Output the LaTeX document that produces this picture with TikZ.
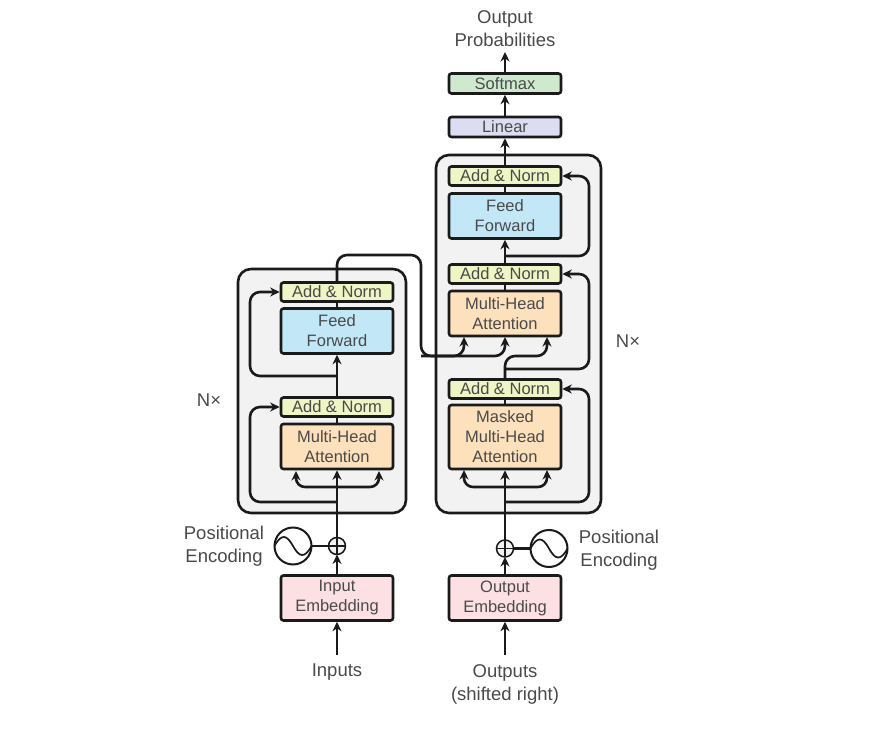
\documentclass[tikz,border=0pt]{standalone}
\usepackage{fontspec}
\setmainfont{Liberation Sans}
\usetikzlibrary{arrows.meta}
\definecolor{txt}{HTML}{4A4A4A}
\definecolor{line}{HTML}{1A1A1A}
\definecolor{stackbg}{HTML}{F2F2F2}
\definecolor{normc}{HTML}{EFF5C4}
\definecolor{ffc}{HTML}{C2E7F7}
\definecolor{attc}{HTML}{FDE0BC}
\definecolor{embc}{HTML}{FCE0E3}
\definecolor{softc}{HTML}{CFE9CF}
\definecolor{linc}{HTML}{DCDDF0}
\tikzset{
  stack/.style={draw=line,line width=2.6pt,fill=stackbg,rounded corners=13pt},
  blockbox/.style={draw=line,line width=2.6pt,rounded corners=2.5pt,minimum width=112pt,inner sep=0pt,outer sep=1.3pt,align=center,text=txt,font=\fontsize{16.5}{20}\selectfont},
  normbox/.style={blockbox,fill=normc,minimum height=19pt},
  ffbox/.style={blockbox,fill=ffc,minimum height=45pt},
  attbox/.style={blockbox,fill=attc,minimum height=45pt},
  embbox/.style={blockbox,fill=embc,minimum height=45pt},
  label/.style={text=txt,align=center,inner sep=0pt,font=\fontsize{18.5}{23}\selectfont},
  arr/.style={draw=line,line width=2.6pt,-{Stealth[length=9.5pt,width=9pt]}},
  dbl/.style={draw=line,line width=2.6pt,{Stealth[length=9.5pt,width=9pt]}-{Stealth[length=9.5pt,width=9pt]},rounded corners=9pt},
  plain/.style={draw=line,line width=2.6pt},
  resid/.style={arr,rounded corners=10pt},
  sumnode/.style={circle,draw=line,line width=1.5pt,fill=stackbg,minimum size=17pt,inner sep=0pt,outer sep=0pt,
    path picture={\draw[line,line width=1.1pt] (path picture bounding box.north)--(path picture bounding box.south)
      (path picture bounding box.west)--(path picture bounding box.east);}},
  wavenode/.style={circle,draw=line,line width=2pt,fill=white,minimum size=37pt,inner sep=0pt,outer sep=0pt,
    path picture={\draw[line,line width=1.7pt] (path picture bounding box.west) .. controls +(7,-13) and +(-6,-11) .. (path picture bounding box.center) .. controls +(6,11) and +(-7,13) .. (path picture bounding box.east);}},
}
\begin{document}
\begin{tikzpicture}[x=1pt,y=-1pt]
\useasboundingbox (0,0) rectangle (871,754);
\fill[white] (0,0) rectangle (871,754);
% stacks
\node[stack,minimum width=168pt,minimum height=244pt,inner sep=0pt] (encstack) at (322,391) {};
\node[stack,minimum width=165pt,minimum height=358pt,inner sep=0pt] (decstack) at (518.5,334) {};
% encoder blocks
\node[normbox] (en2) at (337,292) {Add \& Norm};
\node[ffbox] (eff) at (337,331) {Feed\\Forward};
\node[normbox] (en1) at (337,407) {Add \& Norm};
\node[attbox] (eatt) at (337,446.5) {Multi-Head\\Attention};
\node[embbox] (iemb) at (337,598) {Input\\Embedding};
% decoder blocks
\node[blockbox,fill=softc,minimum height=20pt] (soft) at (505,83.5) {Softmax};
\node[blockbox,fill=linc,minimum height=20pt] (lin) at (505,127) {Linear};
\node[normbox] (dn3) at (505,176) {Add \& Norm};
\node[ffbox] (dff) at (505,216) {Feed\\Forward};
\node[normbox] (dn2) at (505,274) {Add \& Norm};
\node[attbox] (datt) at (505,313.5) {Multi-Head\\Attention};
\node[normbox] (dn1) at (505,389) {Add \& Norm};
\node[blockbox,fill=attc,minimum height=64pt] (dmask) at (505,437) {Masked\\Multi-Head\\Attention};
\node[embbox] (oemb) at (505,598) {Output\\Embedding};
% positional
\node[sumnode] (eplus) at (337,546) {};
\node[wavenode] (ewave) at (293,546) {};
\node[sumnode] (dplus) at (505,548.5) {};
\node[wavenode] (dwave) at (549,548.5) {};
% labels
\node[label] (inp) at (337,672) {Inputs};
\node[label] (outp) at (505,684) {Outputs\\(shifted right)};
\node[label] (prob) at (505,29) {Output\\Probabilities};
\node[label] (nl) at (209,400) {N×};
\node[label] (nr) at (628,341) {N×};
\node[label] (pl) at (224,546) {Positional\\Encoding};
\node[label] (pr) at (619,550) {Positional\\Encoding};
% named free ends
\coordinate (inStart) at (337,655);
\coordinate (outStart) at (505,655);
\coordinate (probEnd) at (505,52);
\coordinate (ej1) at (337,502);
\coordinate (ej2) at (337,376);
\coordinate (eaL) at (296,471);
\coordinate (eaR) at (379,471);
\coordinate (ebL) at (296,487);
\coordinate (ebR) at (379,487);
\coordinate (ec1) at (250,502);
\coordinate (ec2) at (250,407);
\coordinate (ec3) at (250,376);
\coordinate (ec4) at (250,292);
\coordinate (dj1) at (505,502);
\coordinate (dj2) at (505,369);
\coordinate (dj3) at (505,256);
\coordinate (dc1) at (589,502);
\coordinate (dc2) at (589,389);
\coordinate (dc3) at (589,369);
\coordinate (dc4) at (589,274);
\coordinate (dc5) at (589,256);
\coordinate (dc6) at (589,176);
\coordinate (maL) at (464,470);
\coordinate (maR) at (547,470);
\coordinate (mbL) at (464,487);
\coordinate (mbR) at (547,487);
\coordinate (daL) at (464,337);
\coordinate (daM) at (505,337);
\coordinate (daR) at (547,337);
\coordinate (dbL) at (464,356);
\coordinate (dbM) at (505,356);
\coordinate (dbR) at (547,356);
\coordinate (x1) at (337,255);
\coordinate (x2) at (421,255);
\coordinate (x3) at (421,356);
% encoder connectors
\draw[arr] (inStart) -- (iemb.south);
\draw[arr] (iemb.north) -- (eplus.south);
\draw[arr] (eplus.north) -- (eatt.south);
\draw[plain] (ewave.east) -- (eplus.west);
\draw[plain] (eatt.north) -- (en1.south);
\draw[arr] (en1.north) -- (eff.south);
\draw[plain] (eff.north) -- (en2.south);
\draw[dbl] (eaL) -- (ebL) -- (ebR) -- (eaR);
\draw[resid] (ej1) -- (ec1) -- (ec2) -- (en1.west);
\draw[resid] (ej2) -- (ec3) -- (ec4) -- (en2.west);
% encoder to decoder
\draw[arr,rounded corners=10pt] (en2.north) -- (x1) -- (x2) -- (x3) -- (dbL) -- (daL);
\draw[arr,rounded corners=10pt] (x3) -- (dbM) -- (daM);
% decoder connectors
\draw[arr] (outStart) -- (oemb.south);
\draw[arr] (oemb.north) -- (dplus.south);
\draw[arr] (dplus.north) -- (dmask.south);
\draw[plain] (dwave.west) -- (dplus.east);
\draw[plain] (dmask.north) -- (dn1.south);
\draw[arr,rounded corners=10pt] (dn1.north) -- (dbM) -- (dbR) -- (daR);
\draw[plain] (datt.north) -- (dn2.south);
\draw[arr] (dn2.north) -- (dff.south);
\draw[plain] (dff.north) -- (dn3.south);
\draw[arr] (dn3.north) -- (lin.south);
\draw[arr] (lin.north) -- (soft.south);
\draw[arr] (soft.north) -- (probEnd);
\draw[dbl] (maL) -- (mbL) -- (mbR) -- (maR);
\draw[resid] (dj1) -- (dc1) -- (dc2) -- (dn1.east);
\draw[resid] (dj2) -- (dc3) -- (dc4) -- (dn2.east);
\draw[resid] (dj3) -- (dc5) -- (dc6) -- (dn3.east);
\end{tikzpicture}
\end{document}
